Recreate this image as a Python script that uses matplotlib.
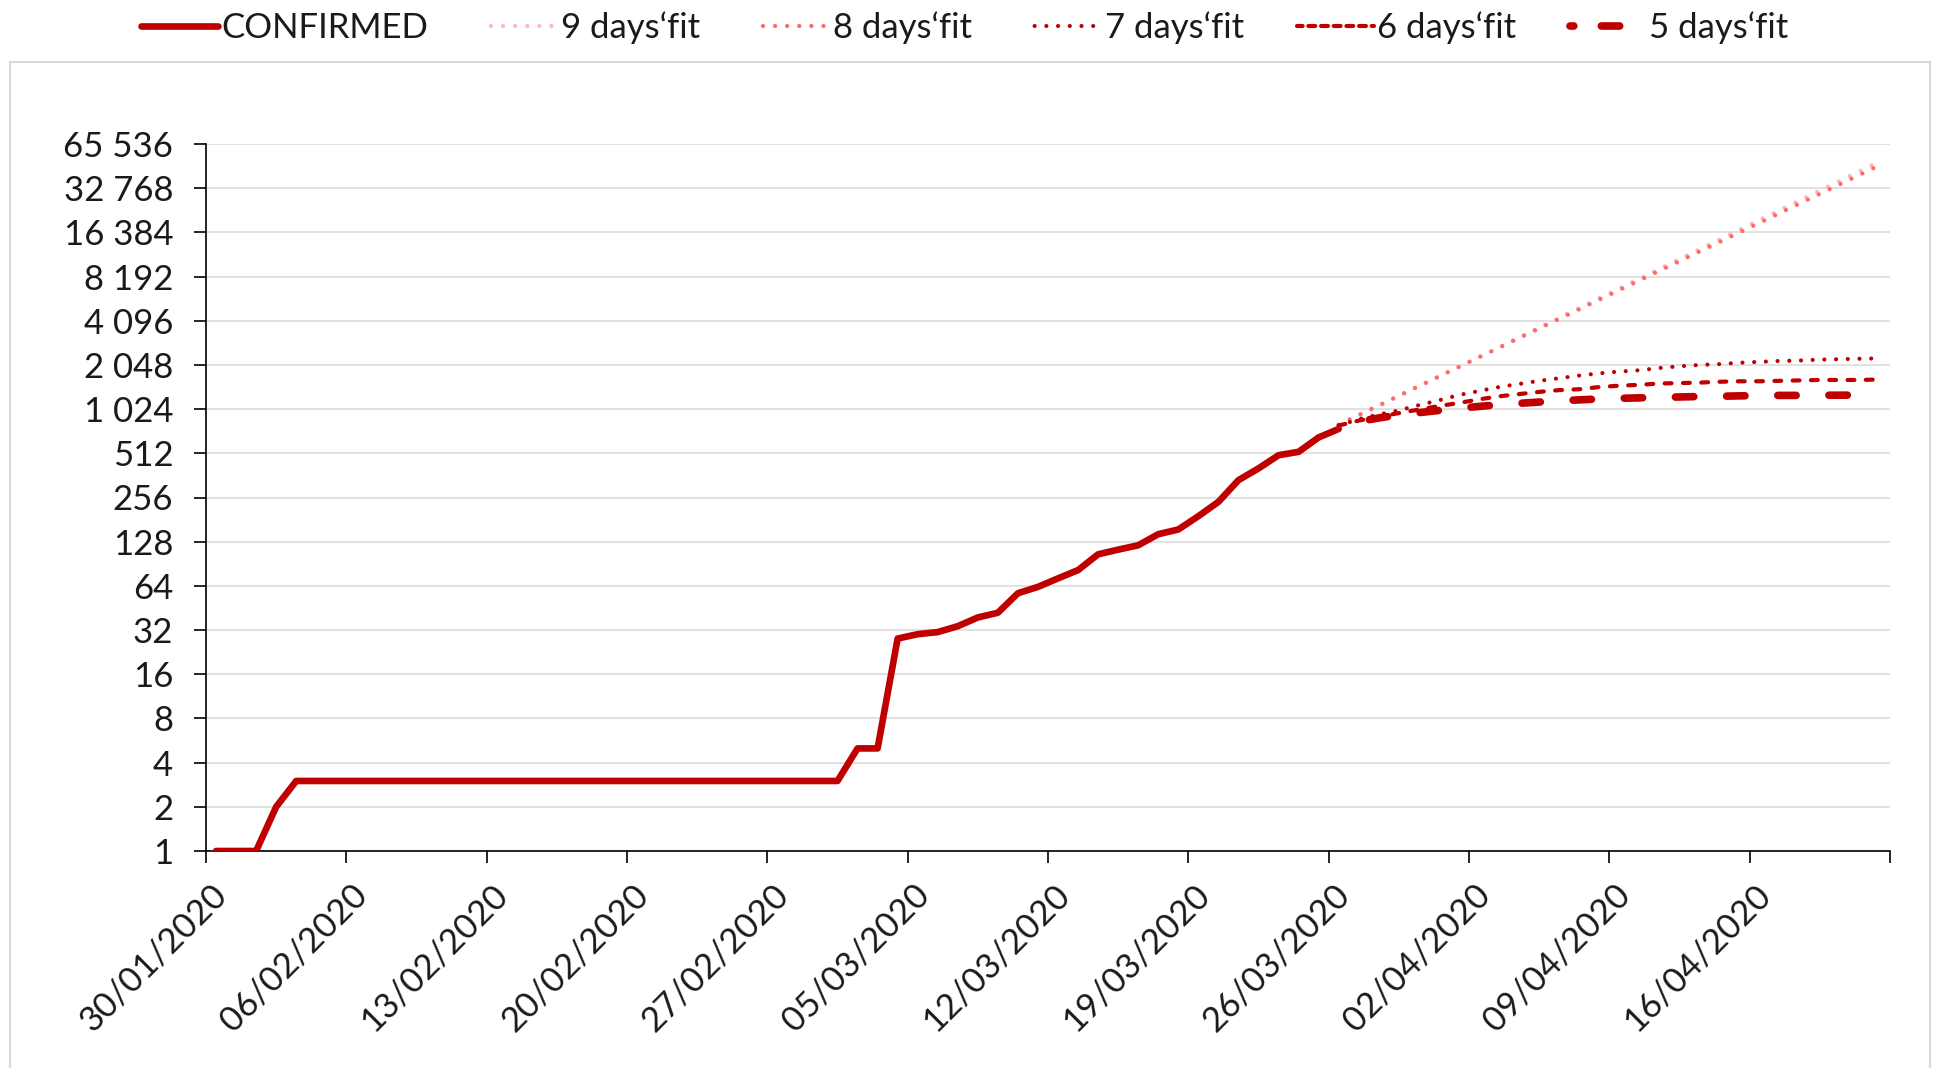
import datetime as dt
import matplotlib
matplotlib.use("Agg")
import matplotlib.pyplot as plt
from matplotlib.patches import Rectangle
from matplotlib.lines import Line2D
from matplotlib.transforms import ScaledTranslation

# ---------------- data ----------------
start_date = dt.datetime(2020, 1, 30)

# daily confirmed cases, 30/01/2020 .. 26/03/2020
confirmed = [1, 1, 1, 2, 3, 3, 3, 3, 3, 3,
             3, 3, 3, 3, 3, 3, 3, 3, 3, 3,
             3, 3, 3, 3, 3, 3, 3, 3, 3, 3,
             3, 3, 5, 5, 28, 30, 31, 34, 39, 42,
             57, 63, 72, 82, 105, 113, 121, 144, 155, 191,
             239, 336, 404, 497, 524, 657, 750]

fit_first_day = 56  # 26/03/2020, fits run to 22/04/2020

fit9 = [792, 924, 1077, 1256, 1464, 1707, 1991, 2321, 2706, 3155,
        3679, 4290, 5001, 5832, 6798, 7927, 9243, 10776, 12563, 14650,
        17078, 19912, 23213, 27066, 31552, 36790, 42893, 50015]
fit8 = [803, 934, 1086, 1263, 1469, 1708, 1986, 2309, 2685, 3122,
        3630, 4221, 4908, 5707, 6636, 7716, 8972, 10432, 12130, 14104,
        16400, 19069, 22173, 25782, 29979, 34858, 40532, 47129]
fit7 = [792, 873, 942, 1003, 1090, 1176, 1278, 1360, 1448, 1520,
        1596, 1663, 1734, 1795, 1846, 1885, 1951, 2006, 2048, 2076,
        2120, 2150, 2180, 2195, 2226, 2241, 2257, 2272]
fit6 = [792, 855, 910, 962, 1017, 1075, 1128, 1193, 1252, 1296,
        1342, 1380, 1399, 1448, 1479, 1499, 1531, 1541, 1552, 1573,
        1585, 1585, 1596, 1607, 1618, 1618, 1618, 1630]
fit5 = [792, 843, 891, 936, 969, 1003, 1038, 1068, 1097, 1121,
        1144, 1168, 1184, 1201, 1213, 1222, 1230, 1239, 1248, 1252,
        1261, 1265, 1270, 1270, 1274, 1274, 1278, 1278]

series_labels = ["CONFIRMED", "9 days\u2018fit", "8 days\u2018fit",
                 "7 days\u2018fit", "6 days\u2018fit", "5 days\u2018fit"]

y_tick_values = [1, 2, 4, 8, 16, 32, 64, 128, 256, 512, 1024, 2048,
                 4096, 8192, 16384, 32768, 65536]
y_tick_labels = ["1", "2", "4", "8", "16", "32", "64", "128", "256", "512",
                 "1 024", "2 048", "4 096", "8 192", "16 384", "32 768",
                 "65 536"]

x_tick_dates = ["30/01/2020", "06/02/2020", "13/02/2020", "20/02/2020",
                "27/02/2020", "05/03/2020", "12/03/2020", "19/03/2020",
                "26/03/2020", "02/04/2020", "09/04/2020", "16/04/2020",
                "23/04/2020"]
x_tick_labels = x_tick_dates[:-1] + [""]

# ---------------- figure ----------------
W, H = 1934, 1068
plt.rcParams["font.family"] = ["Lato", "DejaVu Sans"]
fig = plt.figure(figsize=(W / 100, H / 100), dpi=100)
fig.patch.set_facecolor("white")

ax_left, ax_right, ax_top, ax_bottom = 206, 1890, 144, 851
ax = fig.add_axes([ax_left / W, 1 - ax_bottom / H,
                   (ax_right - ax_left) / W, (ax_bottom - ax_top) / H])

# chart-area border
fig.patches.append(Rectangle((10 / W, -0.02), (1930 - 10) / W, 1 - 62 / H + 0.02,
                             transform=fig.transFigure, fill=False,
                             edgecolor="#D9D9D9", lw=1.5, zorder=0))


def day_pos(i):
    return start_date + dt.timedelta(days=i, hours=12)


x_conf = [day_pos(i) for i in range(len(confirmed))]
x_fit = [day_pos(fit_first_day + i) for i in range(len(fit9))]

red = "#C00000"
pink = "#FF6B6B"
light_pink = "#FFB8B8"
dot = (0.01, 2.8)
dash6 = (1.64, 2.75)
dash5 = (2.4, 4.3)

h_conf, = ax.plot(x_conf, confirmed, color=red, lw=4.8,
                  solid_joinstyle="round", solid_capstyle="round", zorder=3)
ax.plot(x_fit, fit9, color=light_pink, lw=3.1,
        linestyle=(0, dot), dash_capstyle="round", zorder=3)
ax.plot(x_fit, fit8, color=pink, lw=3.1,
        linestyle=(0, dot), dash_capstyle="round", zorder=3)
ax.plot(x_fit, fit7, color=red, lw=3.0,
        linestyle=(0, dot), dash_capstyle="round", zorder=3)
ax.plot(x_fit, fit6, color=red, lw=3.0,
        linestyle=(0, dash6), dash_capstyle="round", zorder=3)
ax.plot(x_fit, fit5, color=red, lw=5.5,
        linestyle=(2.6, dash5), dash_capstyle="round", zorder=3)

# axes
ax.set_yscale("log", base=2)
ax.set_ylim(1, 65536)
ax.set_yticks(y_tick_values)
ax.set_yticklabels(y_tick_labels)
ax.yaxis.set_minor_locator(matplotlib.ticker.NullLocator())

xt = [dt.datetime.strptime(s, "%d/%m/%Y") for s in x_tick_dates]
ax.set_xlim(xt[0], xt[-1])
ax.set_xticks(xt)
ax.set_xticklabels(x_tick_labels)

ax.yaxis.grid(True, color="#D9D9D9", lw=1.1)
ax.set_axisbelow(True)
for s in ["top", "right"]:
    ax.spines[s].set_visible(False)
for s in ["left", "bottom"]:
    ax.spines[s].set_color("black")
    ax.spines[s].set_linewidth(1.2)

txt_color = "#1a1a1a"
ax.tick_params(axis="both", direction="out", length=8.6, width=1.2,
               color="black", labelcolor=txt_color, labelsize=25)
ax.tick_params(axis="y", pad=15)
ax.tick_params(axis="x", pad=19)

shift = ScaledTranslation(0.16, 0, fig.dpi_scale_trans)
for lab in ax.get_xticklabels():
    lab.set_rotation(45)
    lab.set_ha("right")
    lab.set_va("center")
    lab.set_rotation_mode("anchor")
    lab.set_transform(lab.get_transform() + shift)

# legend proxies (same styles, dash phase tuned for the short handle)
leg_handles = [
    Line2D([], [], color=red, lw=4.8, solid_capstyle="round"),
    Line2D([], [], color=light_pink, lw=3.1, linestyle=(0.5, dot), dash_capstyle="round"),
    Line2D([], [], color=pink, lw=3.1, linestyle=(0.5, dot), dash_capstyle="round"),
    Line2D([], [], color=red, lw=3.0, linestyle=(0.5, dot), dash_capstyle="round"),
    Line2D([], [], color=red, lw=3.0, linestyle=(0.3, (1.64, 1.4)), dash_capstyle="round"),
    Line2D([], [], color=red, lw=5.5, linestyle=(1.9, (2.4, 3.6)), dash_capstyle="round"),
]
fig.legend(leg_handles, series_labels, ncol=6,
           loc="center", bbox_to_anchor=(0.499, 1 - 27.5 / H), frameon=False,
           fontsize=25, handlelength=2.2, handletextpad=0.1,
           columnspacing=1.53, labelcolor=txt_color, borderaxespad=0)

fig.savefig("out.png", dpi=100, facecolor="white")
